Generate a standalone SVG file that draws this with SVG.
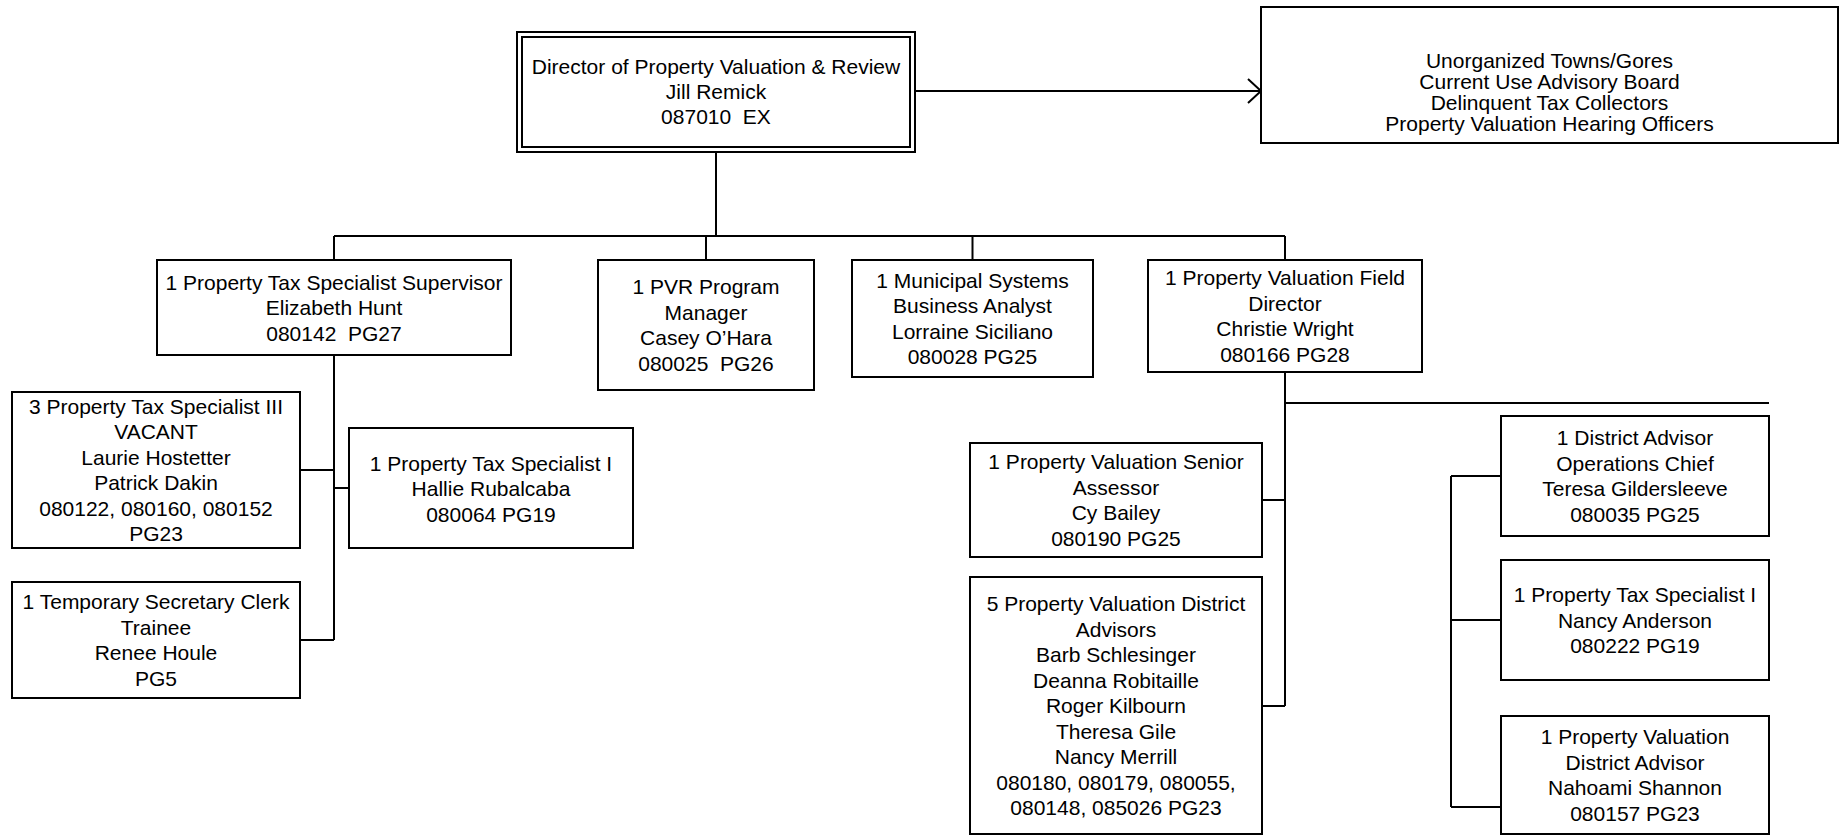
<svg xmlns="http://www.w3.org/2000/svg" width="1846" height="836" viewBox="0 0 1846 836">
<style>
.b{fill:#fff;stroke:#000;stroke-width:2}
.l{fill:none;stroke:#000;stroke-width:2}
text{font-family:"Liberation Sans",Arial,sans-serif;font-size:21px;fill:#000;text-anchor:middle}
</style>
<rect width="1846" height="836" fill="#fff"/>
<g id="connectors">
<line class="l" x1="716" y1="152" x2="716" y2="236"/>
<line class="l" x1="334" y1="236" x2="1285" y2="236"/>
<line class="l" x1="334" y1="236" x2="334" y2="260"/>
<line class="l" x1="706" y1="236" x2="706" y2="260"/>
<line class="l" x1="972.5" y1="236" x2="972.5" y2="260"/>
<line class="l" x1="1285" y1="236" x2="1285" y2="260"/>
<line class="l" x1="915" y1="91" x2="1260" y2="91"/>
<polyline class="l" points="1248,79 1261,91 1248,103"/>
<line class="l" x1="334" y1="355" x2="334" y2="640"/>
<line class="l" x1="300" y1="470" x2="334" y2="470"/>
<line class="l" x1="334" y1="488" x2="349" y2="488"/>
<line class="l" x1="300" y1="640" x2="334" y2="640"/>
<line class="l" x1="1285" y1="372" x2="1285" y2="706"/>
<line class="l" x1="1285" y1="403" x2="1769" y2="403"/>
<line class="l" x1="1262" y1="500" x2="1285" y2="500"/>
<line class="l" x1="1262" y1="706" x2="1285" y2="706"/>
<line class="l" x1="1451" y1="476" x2="1451" y2="807"/>
<line class="l" x1="1451" y1="476" x2="1501" y2="476"/>
<line class="l" x1="1451" y1="620" x2="1501" y2="620"/>
<line class="l" x1="1451" y1="807" x2="1501" y2="807"/>
</g>
<g id="director">
<rect class="b" x="517" y="32" width="398" height="120"/>
<rect class="b" x="522" y="37" width="388" height="110" stroke-width="1.5"/>
<text x="716" y="74">Director of Property Valuation &amp; Review</text>
<text x="716" y="99">Jill Remick</text>
<text x="716" y="124" xml:space="preserve">087010  EX</text>
</g>
<g id="boards">
<rect class="b" x="1261" y="7" width="577" height="136"/>
<text x="1549.5" y="68">Unorganized Towns/Gores</text>
<text x="1549.5" y="89">Current Use Advisory Board</text>
<text x="1549.5" y="110">Delinquent Tax Collectors</text>
<text x="1549.5" y="131">Property Valuation Hearing Officers</text>
</g>
<g id="supervisor">
<rect class="b" x="157" y="260" width="354" height="95"/>
<text x="334" y="289.5">1 Property Tax Specialist Supervisor</text>
<text x="334" y="315">Elizabeth Hunt</text>
<text x="334" y="340.5" xml:space="preserve">080142  PG27</text>
</g>
<g id="pvr">
<rect class="b" x="598" y="260" width="216" height="130"/>
<text x="706" y="294">1 PVR Program</text>
<text x="706" y="319.5">Manager</text>
<text x="706" y="345">Casey O’Hara</text>
<text x="706" y="370.5" xml:space="preserve">080025  PG26</text>
</g>
<g id="municipal">
<rect class="b" x="852" y="260" width="241" height="117"/>
<text x="972.5" y="287.75">1 Municipal Systems</text>
<text x="972.5" y="313.25">Business Analyst</text>
<text x="972.5" y="338.75">Lorraine Siciliano</text>
<text x="972.5" y="364.25">080028 PG25</text>
</g>
<g id="field-director">
<rect class="b" x="1148" y="260" width="274" height="112"/>
<text x="1285" y="285.25">1 Property Valuation Field</text>
<text x="1285" y="310.75">Director</text>
<text x="1285" y="336.25">Christie Wright</text>
<text x="1285" y="361.75">080166 PG28</text>
</g>
<g id="pts3">
<rect class="b" x="12" y="392" width="288" height="156"/>
<text x="156" y="413.75">3 Property Tax Specialist III</text>
<text x="156" y="439.25">VACANT</text>
<text x="156" y="464.75">Laurie Hostetter</text>
<text x="156" y="490.25">Patrick Dakin</text>
<text x="156" y="515.75">080122, 080160, 080152</text>
<text x="156" y="541.25">PG23</text>
</g>
<g id="pts1-hallie">
<rect class="b" x="349" y="428" width="284" height="120"/>
<text x="491" y="470.5">1 Property Tax Specialist I</text>
<text x="491" y="496">Hallie Rubalcaba</text>
<text x="491" y="521.5">080064 PG19</text>
</g>
<g id="temp-secretary">
<rect class="b" x="12" y="582" width="288" height="116"/>
<text x="156" y="609.25">1 Temporary Secretary Clerk</text>
<text x="156" y="634.75">Trainee</text>
<text x="156" y="660.25">Renee Houle</text>
<text x="156" y="685.75">PG5</text>
</g>
<g id="senior-assessor">
<rect class="b" x="970" y="443" width="292" height="114"/>
<text x="1116" y="469.25">1 Property Valuation Senior</text>
<text x="1116" y="494.75">Assessor</text>
<text x="1116" y="520.25">Cy Bailey</text>
<text x="1116" y="545.75">080190 PG25</text>
</g>
<g id="district-advisors">
<rect class="b" x="970" y="577" width="292" height="257"/>
<text x="1116" y="611">5 Property Valuation District</text>
<text x="1116" y="636.5">Advisors</text>
<text x="1116" y="662">Barb Schlesinger</text>
<text x="1116" y="687.5">Deanna Robitaille</text>
<text x="1116" y="713">Roger Kilbourn</text>
<text x="1116" y="738.5">Theresa Gile</text>
<text x="1116" y="764">Nancy Merrill</text>
<text x="1116" y="789.5">080180, 080179, 080055,</text>
<text x="1116" y="815">080148, 085026 PG23</text>
</g>
<g id="ops-chief">
<rect class="b" x="1501" y="416" width="268" height="120"/>
<text x="1635" y="445.25">1 District Advisor</text>
<text x="1635" y="470.75">Operations Chief</text>
<text x="1635" y="496.25">Teresa Gildersleeve</text>
<text x="1635" y="521.75">080035 PG25</text>
</g>
<g id="pts1-nancy">
<rect class="b" x="1501" y="560" width="268" height="120"/>
<text x="1635" y="602">1 Property Tax Specialist I</text>
<text x="1635" y="627.5">Nancy Anderson</text>
<text x="1635" y="653">080222 PG19</text>
</g>
<g id="district-advisor-shannon">
<rect class="b" x="1501" y="716" width="268" height="118"/>
<text x="1635" y="744.25">1 Property Valuation</text>
<text x="1635" y="769.75">District Advisor</text>
<text x="1635" y="795.25">Nahoami Shannon</text>
<text x="1635" y="820.75">080157 PG23</text>
</g>
</svg>
